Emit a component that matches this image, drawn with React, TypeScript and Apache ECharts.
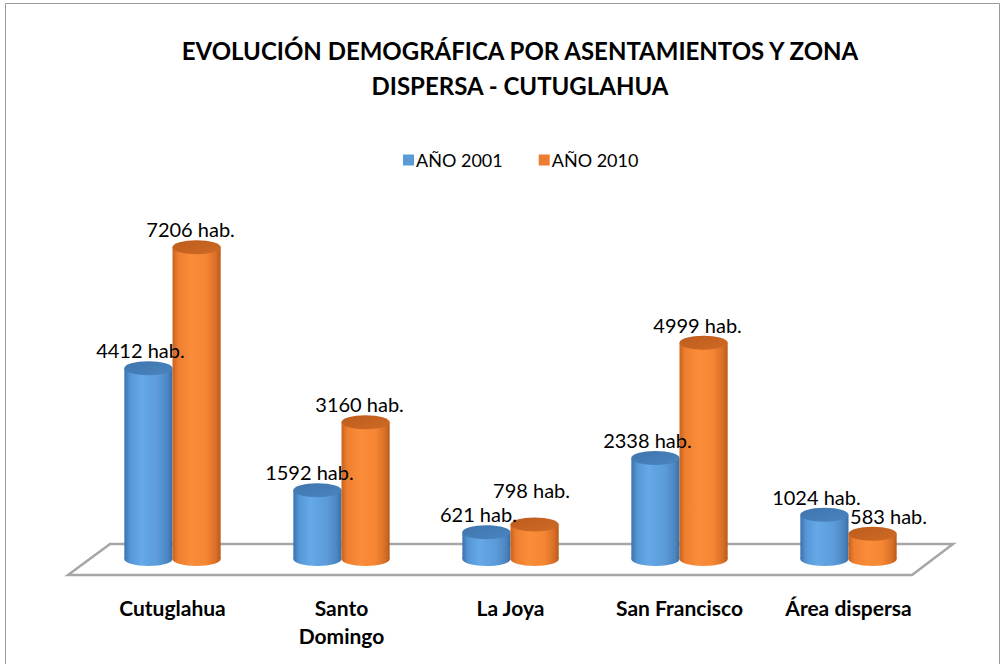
import React, { useEffect, useRef } from "react";
import * as echarts from "echarts";

const categories = ["Cutuglahua", "Santo\nDomingo", "La Joya", "San Francisco", "Área dispersa"];
const seriesNames = ["AÑO 2001", "AÑO 2010"];
const year2001 = [4412, 1592, 621, 2338, 1024];
const year2010 = [7206, 3160, 798, 4999, 583];

const FONT = "Lato, 'Open Sans', sans-serif";

const palettes = [
  {
    legend: "#5B9BD5",
    body: [
      [0, "#3c72ad"],
      [0.12, "#5596d6"],
      [0.35, "#65a9e9"],
      [0.7, "#5b9bd8"],
      [0.9, "#4c86c2"],
      [1, "#3a6da5"],
    ],
    top: ["#3f75ad", "#4a84bf"],
  },
  {
    legend: "#ED7D31",
    body: [
      [0, "#c9621e"],
      [0.12, "#ee7f30"],
      [0.4, "#fa8d3a"],
      [0.7, "#f58634"],
      [0.9, "#d96f26"],
      [1, "#b9591b"],
    ],
    top: ["#bd5c1c", "#cf6a25"],
  },
];

const RY = 7;

function makeRenderItem(seriesIdx: number) {
  const pal = palettes[seriesIdx];
  return (params: any, api: any) => {
    const idx = api.value(0);
    const val = api.value(1);
    const base = api.coord([idx, 0]);
    const top = api.coord([idx, val]);
    const band = api.size([1, 0])[0];
    const w = band * 0.285;
    const cx = base[0] + (seriesIdx === 0 ? -w / 2 : w / 2);
    // label placement with simple collision avoidance against the 2001 label
    let dx = seriesIdx === 0 ? -8 : -6;
    let labelY = top[1] - RY - 2;
    if (seriesIdx === 1) {
      const other = api.coord([idx, year2001[idx]]);
      const otherLabelY = other[1] - RY - 2;
      if (other[1] < top[1] && top[1] - other[1] < 30) {
        dx = 16;
      } else if (Math.abs(labelY - otherLabelY) < 24) {
        labelY = Math.min(labelY, otherLabelY - 24);
        dx = -3;
      }
    }
    const bodyGrad = new echarts.graphic.LinearGradient(
      0, 0, 1, 0,
      pal.body.map(([o, c]) => ({ offset: o as number, color: c as string }))
    );
    const topGrad = new echarts.graphic.LinearGradient(0, 0, 1, 1, [
      { offset: 0, color: pal.top[0] },
      { offset: 1, color: pal.top[1] },
    ]);
    const z2 = seriesIdx * 10;
    return {
      type: "group",
      children: [
        {
          type: "ellipse",
          z2,
          shape: { cx, cy: base[1], rx: w / 2, ry: RY },
          style: { fill: bodyGrad },
        },
        {
          type: "rect",
          z2: z2 + 1,
          shape: { x: cx - w / 2, y: top[1], width: w, height: base[1] - top[1] },
          style: { fill: bodyGrad },
        },
        {
          type: "ellipse",
          z2: z2 + 2,
          shape: { cx, cy: top[1], rx: w / 2, ry: RY },
          style: { fill: topGrad },
        },
        {
          type: "text",
          z2: 100,
          style: {
            text: `${val} hab.`,
            x: cx + dx,
            y: labelY,
            align: "center",
            verticalAlign: "bottom",
            fontFamily: FONT,
            fontSize: 20,
            lineHeight: 18,
            fill: "#000",
          },
        },
      ],
    };
  };
}

export default function App() {
  const ref = useRef<HTMLDivElement>(null);
  useEffect(() => {
    if (!ref.current) return;
    const chart = echarts.init(ref.current, undefined, { renderer: "svg" });
    const mkData = (arr: number[]) => arr.map((v, i) => [i, v]);
    chart.setOption({
      animation: false,
      backgroundColor: "#ffffff",
      title: {
        text: "EVOLUCIÓN DEMOGRÁFICA POR ASENTAMIENTOS Y ZONA\nDISPERSA - CUTUGLAHUA",
        left: 515,
        top: 28,
        textAlign: "center",
        textStyle: {
          fontFamily: FONT,
          fontWeight: "bold",
          fontSize: 24,
          lineHeight: 35,
          color: "#000",
        },
      },
      legend: {
        top: 146,
        left: 398,
        itemWidth: 11,
        itemHeight: 11,
        itemGap: 36,
        icon: "rect",
        textStyle: { fontFamily: FONT, fontSize: 18, color: "#000", padding: [0, 0, 0, -3] },
        data: seriesNames.map((n, i) => ({ name: n, itemStyle: { color: palettes[i].legend } })),
      },
      grid: { left: 88, right: 70, top: 213, bottom: 105 },
      xAxis: {
        type: "category",
        data: categories,
        axisLine: { show: false },
        axisTick: { show: false },
        splitLine: { show: false },
        axisLabel: {
          margin: 34,
          interval: 0,
          fontFamily: FONT,
          fontWeight: "bold",
          fontSize: 21,
          lineHeight: 28,
          color: "#000",
        },
      },
      yAxis: { type: "value", min: 0, max: 8000, show: false },
      graphic: [
        {
          type: "rect",
          z: 0,
          shape: { x: 5.5, y: 3.5, width: 994, height: 700 },
          style: { fill: "none", stroke: "#9a9a9a", lineWidth: 1 },
        },
        {
          type: "polygon",
          z: 0,
          shape: { points: [[110, 544], [953, 544], [912, 575], [68, 575]] },
          style: { fill: "none", stroke: "#a6a6a6", lineWidth: 2.5 },
        },
      ],
      series: [
        {
          name: seriesNames[0],
          type: "custom",
          z: 5,
          itemStyle: { color: palettes[0].legend },
          data: mkData(year2001),
          renderItem: makeRenderItem(0),
          encode: { x: 0, y: 1 },
        },
        {
          name: seriesNames[1],
          type: "custom",
          z: 5,
          itemStyle: { color: palettes[1].legend },
          data: mkData(year2010),
          renderItem: makeRenderItem(1),
          encode: { x: 0, y: 1 },
        },
      ],
    });
    return () => chart.dispose();
  }, []);
  return (
    <div
      ref={ref}
      style={{ position: "fixed", left: 0, top: 0, width: 1003, height: 664 }}
    />
  );
}
